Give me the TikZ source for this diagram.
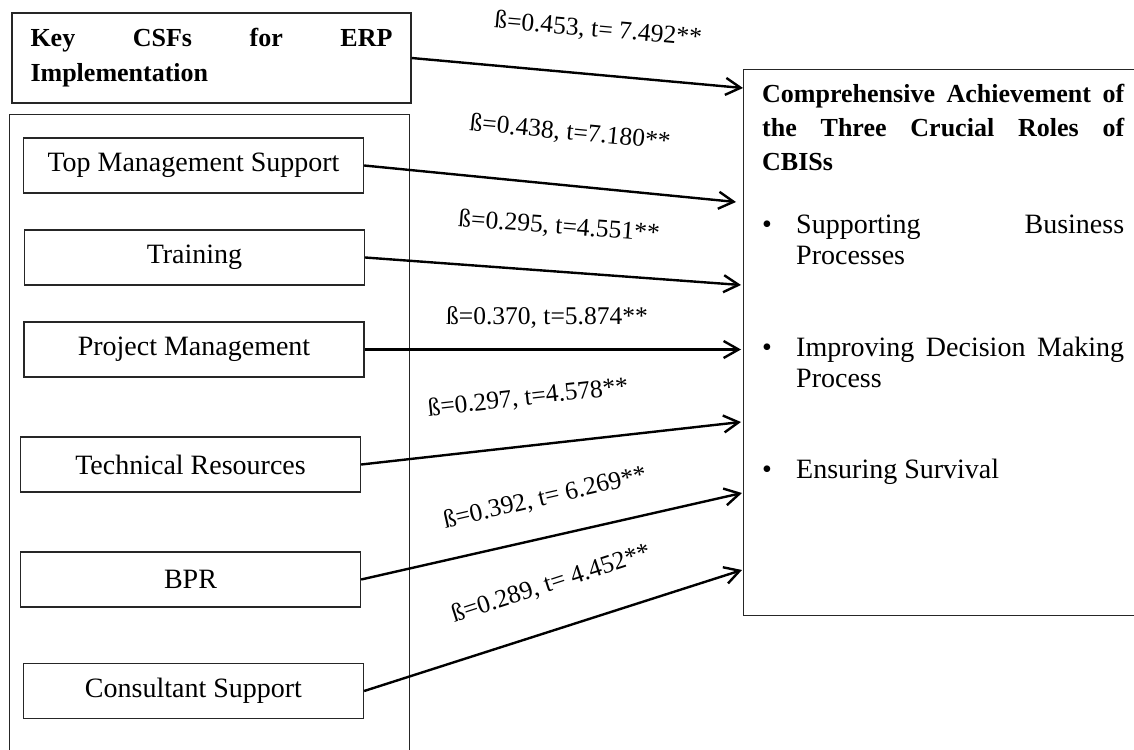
\documentclass[tikz,border=0pt]{standalone}
\usepackage{fontspec}
\setmainfont{Liberation Serif}
\usetikzlibrary{arrows.meta, positioning}

\begin{document}
\begin{tikzpicture}[
  x=1pt, y=-1pt,
  factor/.style={
    draw=black!85,
    line width=1.3pt,
    minimum width=340pt,
    minimum height=55pt,
    inner sep=0pt,
    font=\fontsize{28}{32}\selectfont
  },
  headbox/.style={
    draw=black!85,
    line width=1.3pt,
    text width=362pt,
    minimum width=399pt,
    minimum height=90pt,
    inner xsep=18.5pt,
    align=justify,
    font=\bfseries\fontsize{26}{35}\selectfont
  },
  frame/.style={
    draw=black!85,
    line width=1.3pt,
    anchor=north west,
    inner sep=0pt
  },
  roletext/.style={
    anchor=base west,
    inner sep=0pt,
    align=justify,
    font=\fontsize{28}{31}\selectfont
  },
  bulletmark/.style={
    anchor=base west,
    inner sep=0pt,
    font=\fontsize{28}{31}\selectfont
  },
  coef/.style={
    inner sep=0pt,
    font=\fontsize{25.5}{30}\selectfont
  },
  link/.style={
    draw,
    line width=2.4pt,
    -{Straight Barb[length=15pt, width=17pt, line width=2.4pt]}
  }
]
\clip (0,0) rectangle (1134,749);

% Independent variable boxes
\node[headbox] (key) at (211.5,58)
{Key CSFs for ERP\linebreak Implementation};

\node[frame, minimum width=400pt, minimum height=660pt] (csfs) at (9,114) {};

\node[factor] (tms) at (193.5,165.5) {Top Management Support};
\node[factor] (training) at (194.5,257.5) {Training};
\node[factor] (pm) at (194,349.5) {Project Management};
\node[factor] (tr) at (190.5,464.5) {Technical Resources};
\node[factor] (bpr) at (190.5,579.5) {BPR};
\node[factor] (cs) at (193.5,691) {Consultant Support};

% Dependent variable box
\node[frame, minimum width=420pt, minimum height=546pt] (roles) at (743,69) {};

\node[anchor=north west, inner sep=0pt, text width=362pt, align=justify,
  font=\bfseries\fontsize{26}{34}\selectfont] (title) at (762,84)
{Comprehensive Achievement of\linebreak the Three Crucial Roles of\linebreak CBISs};

\node[bulletmark] (dot1) at (762,233) {\textbullet};
\node[roletext, text width=328pt] (role1) at (796,233)
{Supporting Business\linebreak Processes};

\node[bulletmark] (dot2) at (762,356) {\textbullet};
\node[roletext, text width=328pt] (role2) at (796,356)
{Improving Decision Making\linebreak Process};

\node[bulletmark] (dot3) at (762,478) {\textbullet};
\node[roletext] (role3) at (796,478) {Ensuring Survival};

% Arrow ends on the dependent box
\coordinate (in0) at (743,88);
\coordinate (in1) at (736,202);
\coordinate (in2) at (741,285);
\coordinate (in3) at (741,349.5);
\coordinate (in4) at (741,422);
\coordinate (in5) at (742,493);
\coordinate (in6) at (742,570);

% Paths
\draw[link] (key.east) -- (in0);
\draw[link] (tms.east) -- (in1);
\draw[link] (training.east) -- (in2);
\draw[link] (pm.east) -- (in3);
\draw[link] (tr.east) -- (in4);
\draw[link] (bpr.east) -- (in5);
\draw[link] (cs.east) -- (in6);

% Path coefficients
\node[coef, rotate=-5] (c0) at (598,30) {ß=0.453, t= 7.492**};
\node[coef, rotate=-5.5] (c1) at (570,133) {ß=0.438, t=7.180**};
\node[coef, rotate=-4.3] (c2) at (559,227) {ß=0.295, t=4.551**};
\node[coef] (c3) at (547,317) {ß=0.370, t=5.874**};
\node[coef, rotate=6.4] (c4) at (528,398) {ß=0.297, t=4.578**};
\node[coef, rotate=13] (c5) at (545,498) {ß=0.392, t= 6.269**};
\node[coef, rotate=18] (c6) at (551,584) {ß=0.289, t= 4.452**};

\end{tikzpicture}
\end{document}
